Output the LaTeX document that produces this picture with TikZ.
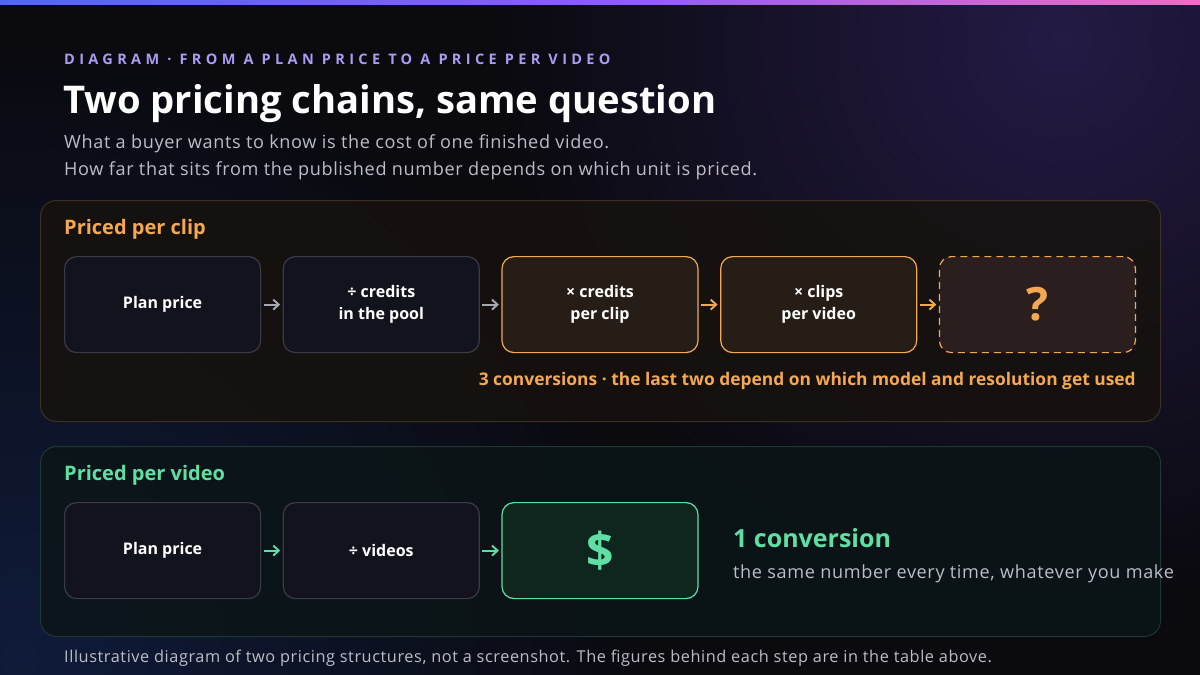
\documentclass[tikz,border=0pt]{standalone}
\usepackage{fontspec}
\setmainfont{Open Sans}
\newfontfamily\kickerfont[LetterSpace=30]{Open Sans}
\newfontfamily\bodyfont[LetterSpace=3.5]{Open Sans}
\usetikzlibrary{positioning,arrows.meta}

\definecolor{bgdark}{HTML}{0A0A0F}
\definecolor{glowpurple}{HTML}{241A45}
\definecolor{glowblue}{HTML}{0F1B3A}
\definecolor{kicker}{HTML}{A99DF2}
\definecolor{subgrey}{HTML}{BDBDC7}
\definecolor{cliporange}{HTML}{F3A852}
\definecolor{vidgreen}{HTML}{5FDFA4}
\definecolor{boxgrey}{HTML}{12131C}
\definecolor{edgegrey}{HTML}{3A3B46}
\definecolor{arrgrey}{HTML}{A8A8B2}

\begin{document}
\begin{tikzpicture}[x=1pt,y=-1pt,
  every node/.style={align=center,inner sep=0pt},
  step box/.style={draw=edgegrey,fill=boxgrey,line width=1.2pt,rounded corners=12pt,
    minimum width=196pt,minimum height=96pt,text=white,font=\bfseries\fontsize{16}{22}\selectfont},
  warm box/.style={step box,draw=cliporange,fill={rgb,255:red,38;green,29;blue,22}},
  open box/.style={step box,draw=cliporange,dashed,dash pattern=on 7pt off 5pt,fill={rgb,255:red,42;green,31;blue,30}},
  cool box/.style={step box,draw=vidgreen,fill={rgb,255:red,15;green,38;blue,31}},
  panel/.style={draw,line width=1pt,rounded corners=16pt,minimum width=1120pt,anchor=north west},
  arr/.style={-{Straight Barb[length=5.5pt,width=10pt]},line width=1.9pt,shorten <=2.5pt,shorten >=2.5pt}]

% background
\fill[bgdark] (0,0) rectangle (1200,675);
\useasboundingbox (0,0) rectangle (1200,675);
\shade[inner color=glowpurple,outer color=bgdark] (1060,40) circle (560);
\shade[inner color=glowblue,outer color=bgdark] (20,660) circle (620);
\shade[left color={rgb,255:red,80;green,104;blue,240},right color={rgb,255:red,236;green,110;blue,196},
  middle color={rgb,255:red,140;green,92;blue,246}] (0,0) rectangle (1200,4);

% heading
\node[anchor=base west,text=kicker,font=\kickerfont\bfseries\fontsize{14.5}{16}\selectfont] (kick) at (64,64)
  {DIAGRAM · FROM A PLAN PRICE TO A PRICE PER VIDEO};
\node[anchor=base west,text=white,font=\bfseries\fontsize{38.2}{42}\selectfont] (title) at (63,113)
  {Two pricing chains, same question};
\node[anchor=base west,text=subgrey,font=\bodyfont\fontsize{18.1}{27}\selectfont] (sub1) at (64,148)
  {What a buyer wants to know is the cost of one finished video.};
\node[anchor=base west,text=subgrey,font=\bodyfont\fontsize{18.1}{27}\selectfont] (sub2) at (64,175)
  {How far that sits from the published number depends on which unit is priced.};

% per clip
\node[panel,draw={rgb,255:red,60;green,48;blue,36},fill={rgb,255:red,23;green,18;blue,14},fill opacity=0.85,
  minimum height=221pt] (clippanel) at (40,200) {};
\node[anchor=base west,text=cliporange,font=\bfseries\fontsize{20}{24}\selectfont] (cliphead) at (64,234)
  {Priced per clip};
\node[step box,anchor=north west] (plan) at (64,256) {Plan price};
\node[step box,right=21.5pt of plan] (pool) {÷ credits\\in the pool};
\node[warm box,right=21.5pt of pool] (credits) {× credits\\per clip};
\node[warm box,right=21.5pt of credits] (clips) {× clips\\per video};
\node[open box,right=21.5pt of clips,text=cliporange,font=\bfseries\fontsize{46}{48}\selectfont] (unknown) {?};
\draw[arr,arrgrey] (plan) -- (pool);
\draw[arr,arrgrey] (pool) -- (credits);
\draw[arr,cliporange] (credits) -- (clips);
\draw[arr,cliporange] (clips) -- (unknown);
\node[anchor=base east,text=cliporange,font=\bfseries\fontsize{17.4}{20}\selectfont] (clipnote) at (1136,385)
  {3 conversions · the last two depend on which model and resolution get used};

% per video
\node[panel,draw={rgb,255:red,30;green,56;blue,52},fill={rgb,255:red,11;green,21;blue,23},fill opacity=0.85,
  minimum height=190pt] (vidpanel) at (40,446) {};
\node[anchor=base west,text=vidgreen,font=\bfseries\fontsize{20}{24}\selectfont] (vidhead) at (64,480)
  {Priced per video};
\node[step box,anchor=north west] (plan2) at (64,502) {Plan price};
\node[step box,right=21.5pt of plan2] (videos) {÷ videos};
\node[cool box,right=21.5pt of videos,text=vidgreen,font=\bfseries\fontsize{48}{50}\selectfont] (dollar) {\$};
\draw[arr,vidgreen] (plan2) -- (videos);
\draw[arr,vidgreen] (videos) -- (dollar);
\node[anchor=base west,text=vidgreen,font=\bfseries\fontsize{25}{28}\selectfont] (onecon) at (733,547)
  {1 conversion};
\node[anchor=base west,text=subgrey,font=\bodyfont\fontsize{18.1}{20}\selectfont] (samenum) at (733,578)
  {the same number every time, whatever you make};

% footer
\node[anchor=base west,text=subgrey,font=\bodyfont\fontsize{16.3}{18}\selectfont] (foot) at (64,662)
  {Illustrative diagram of two pricing structures, not a screenshot. The figures behind each step are in the table above.};
\end{tikzpicture}
\end{document}
